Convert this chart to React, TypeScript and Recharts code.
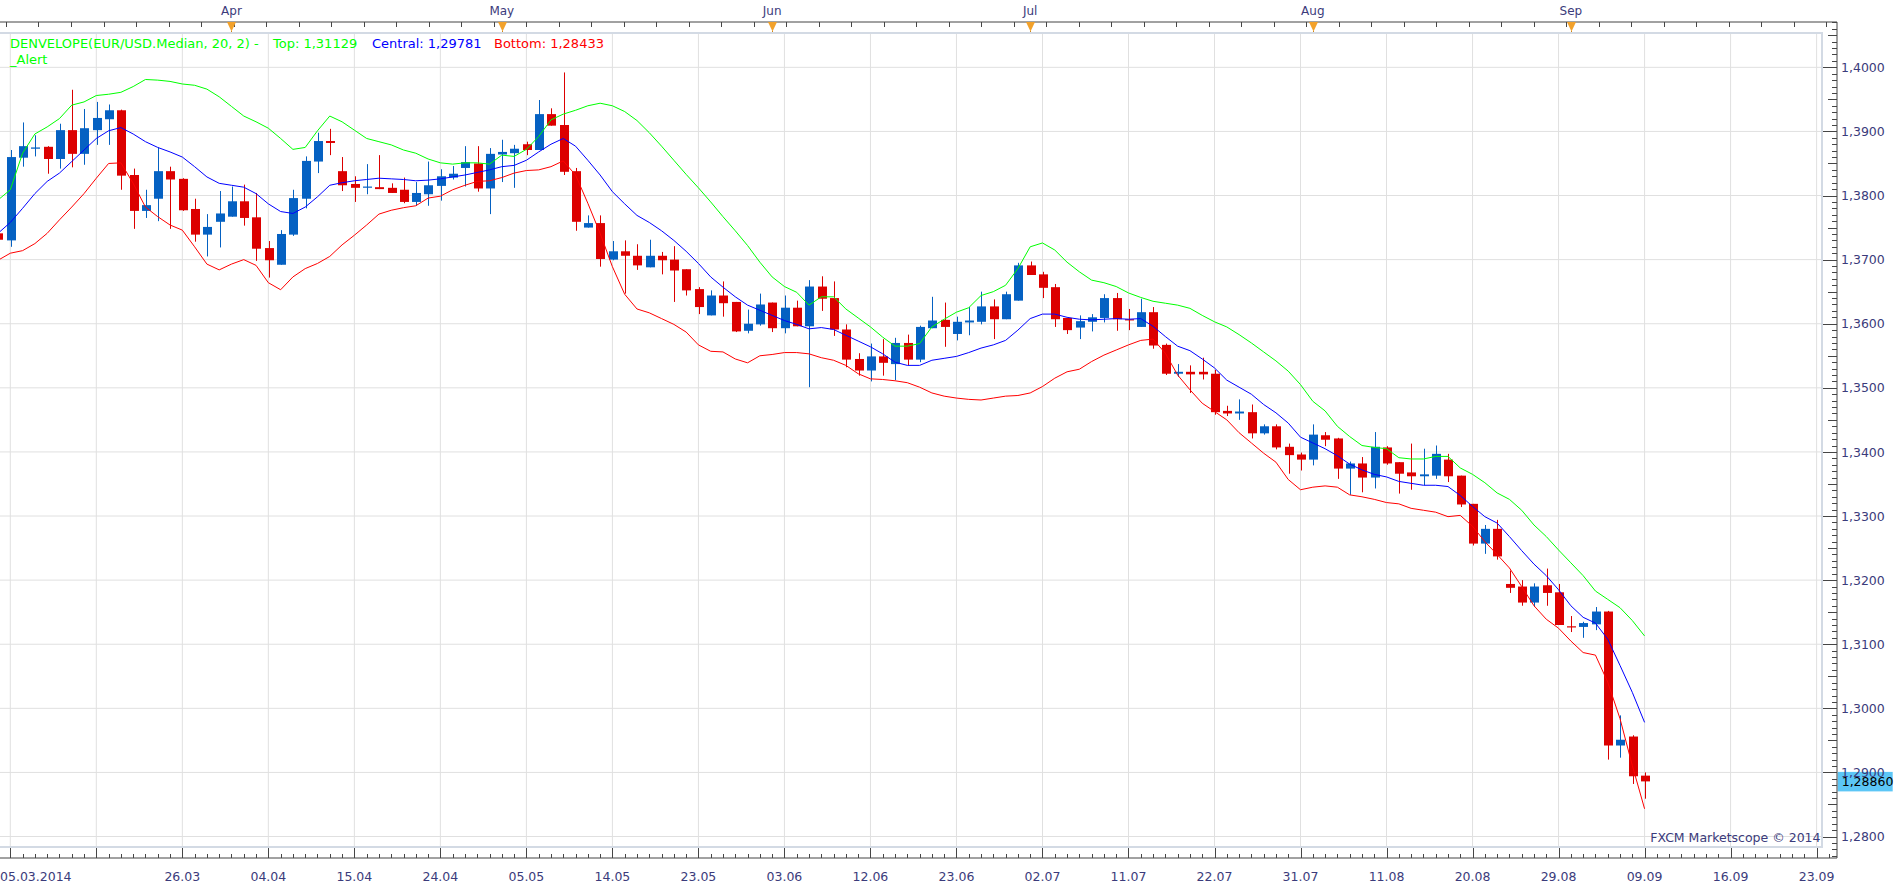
import React from 'react';
import { ComposedChart, Bar, Line, XAxis, YAxis, CartesianGrid, ReferenceLine } from 'recharts';

// ---------------- data ----------------
const FIRST_INDEX = -1; // first (partly hidden) candle sits one slot before 05.03.2014

const opens = [
  1.3741, 1.3730, 1.3859, 1.3873, 1.3876, 1.3857, 1.3902, 1.3865, 1.3902, 1.3919,
  1.3933, 1.3832, 1.3776, 1.3795, 1.3838, 1.3826, 1.3779, 1.3739, 1.3759, 1.3767,
  1.3791, 1.3766, 1.3718, 1.3692, 1.3739, 1.3795, 1.3853, 1.3885, 1.3838, 1.3818,
  1.3813, 1.3813, 1.3812, 1.3809, 1.3790, 1.3802, 1.3815, 1.3828, 1.3843, 1.3850,
  1.3811, 1.3864, 1.3866, 1.3880, 1.3871, 1.3927, 1.3910, 1.3838, 1.3750, 1.3757,
  1.3700, 1.3713, 1.3706, 1.3688, 1.3706, 1.3700, 1.3685, 1.3654, 1.3613, 1.3644,
  1.3634, 1.3589, 1.3599, 1.3633, 1.3593, 1.3625, 1.3596, 1.3658, 1.3640, 1.3591,
  1.3545, 1.3527, 1.3549, 1.3537, 1.3570, 1.3544, 1.3593, 1.3606, 1.3584, 1.3602,
  1.3603, 1.3627, 1.3607, 1.3636, 1.3691, 1.3677, 1.3657, 1.3609, 1.3594, 1.3603,
  1.3609, 1.3640, 1.3607, 1.3595, 1.3618, 1.3567, 1.3522, 1.3525, 1.3525, 1.3522,
  1.3464, 1.3460, 1.3462, 1.3429, 1.3440, 1.3408, 1.3396, 1.3388, 1.3426, 1.3421,
  1.3374, 1.3382, 1.3360, 1.3407, 1.3384, 1.3368, 1.3362, 1.3363, 1.3388, 1.3363,
  1.3319, 1.3257, 1.3280, 1.3194, 1.3190, 1.3165, 1.3192, 1.3181, 1.3128, 1.3127,
  1.3131, 1.3151, 1.2942, 1.2956, 1.2895,
];
const highs = [
  1.3746, 1.3871, 1.3914, 1.3894, 1.3877, 1.3912, 1.3965, 1.3935, 1.3946, 1.3942,
  1.3934, 1.3842, 1.3809, 1.3875, 1.3845, 1.3827, 1.3795, 1.3771, 1.3807, 1.3814,
  1.3817, 1.3804, 1.3729, 1.3746, 1.3809, 1.3861, 1.3898, 1.3904, 1.3860, 1.3830,
  1.3849, 1.3863, 1.3819, 1.3828, 1.3821, 1.3853, 1.3841, 1.3846, 1.3877, 1.3877,
  1.3874, 1.3887, 1.3879, 1.3884, 1.3949, 1.3936, 1.3992, 1.3843, 1.3769, 1.3769,
  1.3729, 1.3730, 1.3724, 1.3731, 1.3712, 1.3721, 1.3685, 1.3657, 1.3652, 1.3666,
  1.3634, 1.3622, 1.3647, 1.3633, 1.3644, 1.3636, 1.3668, 1.3674, 1.3666, 1.3599,
  1.3554, 1.3569, 1.3576, 1.3578, 1.3583, 1.3597, 1.3642, 1.3633, 1.3611, 1.3626,
  1.3650, 1.3638, 1.3650, 1.3695, 1.3697, 1.3681, 1.3662, 1.3609, 1.3613, 1.3615,
  1.3646, 1.3648, 1.3623, 1.3639, 1.3626, 1.3569, 1.3537, 1.3535, 1.3547, 1.3528,
  1.3472, 1.3482, 1.3474, 1.3443, 1.3443, 1.3413, 1.3399, 1.3443, 1.3431, 1.3422,
  1.3385, 1.3392, 1.3431, 1.3409, 1.3384, 1.3413, 1.3405, 1.3410, 1.3397, 1.3363,
  1.3319, 1.3286, 1.3294, 1.3215, 1.3200, 1.3195, 1.3218, 1.3194, 1.3144, 1.3135,
  1.3158, 1.3152, 1.2989, 1.2958, 1.2900,
];
const lows = [
  1.3726, 1.3720, 1.3845, 1.3861, 1.3834, 1.3842, 1.3844, 1.3848, 1.3879, 1.3879,
  1.3809, 1.3748, 1.3765, 1.3760, 1.3748, 1.3776, 1.3728, 1.3705, 1.3719, 1.3767,
  1.3753, 1.3698, 1.3672, 1.3692, 1.3737, 1.3780, 1.3835, 1.3863, 1.3807, 1.3790,
  1.3802, 1.3810, 1.3804, 1.3788, 1.3784, 1.3784, 1.3792, 1.3825, 1.3814, 1.3806,
  1.3771, 1.3821, 1.3812, 1.3863, 1.3871, 1.3909, 1.3832, 1.3745, 1.3750, 1.3689,
  1.3699, 1.3647, 1.3684, 1.3688, 1.3677, 1.3634, 1.3644, 1.3615, 1.3613, 1.3611,
  1.3587, 1.3585, 1.3597, 1.3587, 1.3585, 1.3596, 1.3501, 1.3620, 1.3581, 1.3532,
  1.3519, 1.3510, 1.3519, 1.3512, 1.3535, 1.3540, 1.3593, 1.3564, 1.3574, 1.3582,
  1.3599, 1.3576, 1.3607, 1.3636, 1.3676, 1.3640, 1.3595, 1.3584, 1.3576, 1.3588,
  1.3602, 1.3589, 1.3590, 1.3595, 1.3561, 1.3520, 1.3517, 1.3492, 1.3513, 1.3458,
  1.3456, 1.3450, 1.3421, 1.3427, 1.3404, 1.3366, 1.3371, 1.3379, 1.3409, 1.3358,
  1.3333, 1.3337, 1.3343, 1.3380, 1.3335, 1.3341, 1.3348, 1.3358, 1.3353, 1.3314,
  1.3254, 1.3241, 1.3232, 1.3180, 1.3160, 1.3158, 1.3160, 1.3130, 1.3119, 1.3110,
  1.3122, 1.2920, 1.2923, 1.2882, 1.2859,
];
const closes = [
  1.3731, 1.3860, 1.3877, 1.3875, 1.3857, 1.3902, 1.3865, 1.3905, 1.3921, 1.3933,
  1.3831, 1.3776, 1.3785, 1.3838, 1.3825, 1.3777, 1.3739, 1.3751, 1.3772, 1.3791,
  1.3765, 1.3717, 1.3699, 1.3740, 1.3796, 1.3854, 1.3885, 1.3882, 1.3816, 1.3812,
  1.3814, 1.3810, 1.3804, 1.3790, 1.3804, 1.3816, 1.3830, 1.3834, 1.3852, 1.3811,
  1.3865, 1.3868, 1.3873, 1.3871, 1.3927, 1.3909, 1.3837, 1.3759, 1.3757, 1.3701,
  1.3713, 1.3706, 1.3691, 1.3706, 1.3699, 1.3683, 1.3652, 1.3626, 1.3644, 1.3632,
  1.3588, 1.3600, 1.3630, 1.3593, 1.3625, 1.3596, 1.3658, 1.3639, 1.3591, 1.3544,
  1.3527, 1.3549, 1.3539, 1.3570, 1.3544, 1.3595, 1.3605, 1.3595, 1.3603, 1.3605,
  1.3627, 1.3607, 1.3646, 1.3691, 1.3676, 1.3656, 1.3607, 1.3590, 1.3604, 1.3610,
  1.3640, 1.3607, 1.3606, 1.3618, 1.3566, 1.3522, 1.3525, 1.3521, 1.3521, 1.3462,
  1.3460, 1.3463, 1.3429, 1.3440, 1.3407, 1.3395, 1.3388, 1.3427, 1.3419, 1.3374,
  1.3382, 1.3360, 1.3408, 1.3382, 1.3366, 1.3362, 1.3365, 1.3397, 1.3362, 1.3318,
  1.3257, 1.3280, 1.3237, 1.3188, 1.3165, 1.3190, 1.3180, 1.3130, 1.3127, 1.3133,
  1.3151, 1.2942, 1.2951, 1.2894, 1.2886,
];
const topEnvelope = [
  1.3793, 1.3809, 1.3866, 1.3896, 1.3907, 1.3920, 1.3941, 1.3946, 1.3956, 1.3958,
  1.3961, 1.3970, 1.3981, 1.3980, 1.3978, 1.3974, 1.3972, 1.3966, 1.3954, 1.3939,
  1.3924, 1.3915, 1.3905, 1.3889, 1.3872, 1.3875, 1.3901, 1.3924, 1.3915, 1.3902,
  1.3889, 1.3884, 1.3879, 1.3871, 1.3866, 1.3857, 1.3851, 1.3849, 1.3851, 1.3851,
  1.3849, 1.3863, 1.3861, 1.3872, 1.3892, 1.3918, 1.3927, 1.3933, 1.3940, 1.3944,
  1.3940, 1.3931, 1.3917, 1.3898, 1.3877, 1.3855, 1.3833, 1.3812, 1.3790, 1.3767,
  1.3745, 1.3722, 1.3696, 1.3673, 1.3658, 1.3649, 1.3629, 1.3642, 1.3642, 1.3623,
  1.3609, 1.3595, 1.3579, 1.3565, 1.3565, 1.3569, 1.3595, 1.3607, 1.3618, 1.3625,
  1.3644, 1.3650, 1.3660, 1.3686, 1.3720, 1.3726, 1.3715, 1.3696, 1.3681, 1.3668,
  1.3664, 1.3658, 1.3648, 1.3641, 1.3635, 1.3632, 1.3629, 1.3624, 1.3613, 1.3603,
  1.3595, 1.3583, 1.3570, 1.3556, 1.3542, 1.3526, 1.3505, 1.3479, 1.3464, 1.3440,
  1.3424, 1.3410, 1.3407, 1.3405, 1.3391, 1.3389, 1.3389, 1.3393, 1.3393, 1.3375,
  1.3365, 1.3352, 1.3336, 1.3326, 1.3309, 1.3286, 1.3268, 1.3247, 1.3227, 1.3207,
  1.3183, 1.3170, 1.3157, 1.3137, 1.31129,
];
const centralEnvelope = [
  1.3741, 1.3758, 1.3780, 1.3803, 1.3822, 1.3835, 1.3853, 1.3871, 1.3889, 1.3901,
  1.3906, 1.3896, 1.3884, 1.3875, 1.3868, 1.3860, 1.3845, 1.3829, 1.3819, 1.3816,
  1.3813, 1.3803, 1.3787, 1.3775, 1.3772, 1.3782, 1.3798, 1.3816, 1.3820, 1.3823,
  1.3825, 1.3827, 1.3826, 1.3825, 1.3823, 1.3824, 1.3826, 1.3829, 1.3832, 1.3836,
  1.3840, 1.3845, 1.3847, 1.3855, 1.3868, 1.3880, 1.3889, 1.3877, 1.3855, 1.3832,
  1.3806, 1.3787, 1.3769, 1.3758, 1.3745, 1.3730, 1.3713, 1.3694, 1.3673, 1.3657,
  1.3642, 1.3629, 1.3621, 1.3613, 1.3605, 1.3599, 1.3592, 1.3594, 1.3591, 1.3582,
  1.3573, 1.3564, 1.3553, 1.3540, 1.3535, 1.3535, 1.3543, 1.3546, 1.3549, 1.3555,
  1.3562, 1.3567, 1.3574, 1.3590, 1.3608, 1.3615, 1.3615, 1.3610, 1.3607, 1.3606,
  1.3607, 1.3608, 1.3607, 1.3608, 1.3596, 1.3580, 1.3565, 1.3558, 1.3545, 1.3531,
  1.3512, 1.3501, 1.3490, 1.3474, 1.3461, 1.3445, 1.3423, 1.3414, 1.3405, 1.3394,
  1.3381, 1.3372, 1.3365, 1.3361, 1.3354, 1.3351, 1.3348, 1.3348, 1.3346, 1.3332,
  1.3315, 1.3299, 1.3289, 1.3268, 1.3246, 1.3225, 1.3207, 1.3185, 1.3160, 1.3142,
  1.3133, 1.3108, 1.3067, 1.3025, 1.29781,
];
const bottomEnvelope = [
  1.3699, 1.3710, 1.3714, 1.3725, 1.3741, 1.3762, 1.3782, 1.3803, 1.3827, 1.3850,
  1.3851, 1.3819, 1.3782, 1.3767, 1.3754, 1.3746, 1.3720, 1.3693, 1.3684, 1.3693,
  1.3700, 1.3691, 1.3664, 1.3653, 1.3673, 1.3686, 1.3694, 1.3705, 1.3723, 1.3738,
  1.3754, 1.3771, 1.3777, 1.3781, 1.3784, 1.3796, 1.3799, 1.3809, 1.3816, 1.3822,
  1.3823, 1.3828, 1.3835, 1.3839, 1.3840, 1.3845, 1.3854, 1.3832, 1.3788, 1.3741,
  1.3689, 1.3646, 1.3623, 1.3617, 1.3608, 1.3599, 1.3587, 1.3567, 1.3557, 1.3556,
  1.3545, 1.3539, 1.3550, 1.3552, 1.3555, 1.3555, 1.3553, 1.3547, 1.3543, 1.3535,
  1.3522, 1.3514, 1.3513, 1.3511, 1.3508, 1.3501, 1.3492, 1.3487, 1.3484, 1.3482,
  1.3481, 1.3484, 1.3487, 1.3488, 1.3492, 1.3502, 1.3515, 1.3525, 1.3529, 1.3541,
  1.3551, 1.3559, 1.3567, 1.3574, 1.3576, 1.3554, 1.3520, 1.3497, 1.3476, 1.3463,
  1.3450, 1.3430, 1.3414, 1.3398, 1.3384, 1.3357, 1.3341, 1.3345, 1.3347, 1.3345,
  1.3333, 1.3330, 1.3326, 1.3321, 1.3319, 1.3312, 1.3309, 1.3306, 1.3299, 1.3301,
  1.3284, 1.3260, 1.3240, 1.3219, 1.3190, 1.3160, 1.3139, 1.3125, 1.3105, 1.3087,
  1.3083, 1.3041, 1.2984, 1.2911, 1.28433,
];

const dateTickIndex = [0, 7, 14, 21, 28, 35, 42, 49, 56, 63, 70, 77, 84, 91, 98, 105, 112, 119, 126, 133, 140, 147];
const dateTickLabels = [
  '05.03.2014', '', '26.03', '04.04', '15.04', '24.04', '05.05', '14.05', '23.05', '03.06', '12.06',
  '23.06', '02.07', '11.07', '22.07', '31.07', '11.08', '20.08', '29.08', '09.09', '16.09', '23.09',
];
const monthTickIndex = [18, 40, 62, 83, 106, 127];
const monthTickLabels = ['Apr', 'May', 'Jun', 'Jul', 'Aug', 'Sep'];
const priceGridValues = [1.28, 1.29, 1.30, 1.31, 1.32, 1.33, 1.34, 1.35, 1.36, 1.37, 1.38, 1.39, 1.40];

// ---------------- layout / style ----------------
const X_MIN = -0.838;
const X_MAX = 148.66;
const Y_MIN = 1.27665;
const Y_MAX = 1.40707;

const BLUE = '#0561c2';
const RED = '#dc0000';
const ENV_GREEN = '#00ff00';
const ENV_BLUE = '#0000ff';
const ENV_RED = '#ff0000';
const AXIS_DARK = '#454545';
const LABEL = '#3b3b7b';
const GRID = '#e0e0e0';
const FONT = '"DejaVu Sans", Verdana, sans-serif';

const data = opens.map((o, k) => ({
  idx: FIRST_INDEX + k,
  open: o,
  high: highs[k],
  low: lows[k],
  close: closes[k],
  range: [lows[k], highs[k]],
  top: topEnvelope[k],
  central: centralEnvelope[k],
  bottom: bottomEnvelope[k],
}));

const candleTicks = Array.from({ length: 149 }, (_, k) => k);
const topMinorTicks = Array.from({ length: 57 }, (_, k) => +(-0.35 + k * 2.645).toFixed(3));
const topTicks = [...topMinorTicks, ...monthTickIndex];
const priceTicks = Array.from({ length: 131 }, (_, k) => +(1.277 + k * 0.001).toFixed(3));

const fmt = (v: number, d: number) => v.toFixed(d).replace('.', ',');

const Candle = (props: any) => {
  const { x, y, width, height, payload } = props;
  if (x == null || y == null || !payload) return null;
  const cx = Math.round(x + width / 2) + 0.5;
  const { open, close, high, low } = payload;
  const span = high - low;
  const toY = (v: number) => (span > 0 ? y + ((high - v) / span) * height : y);
  const up = close >= open;
  const color = up ? BLUE : RED;
  const bt = toY(Math.max(open, close));
  const bb = toY(Math.min(open, close));
  return (
    <g>
      <line x1={cx} x2={cx} y1={y} y2={y + Math.max(height, 1)} stroke={color} strokeWidth={1} />
      <rect x={cx - 4.5} y={bt} width={9} height={Math.max(bb - bt, 1.2)} fill={color} />
    </g>
  );
};

const PriceTick = (props: any) => {
  const { x, y, payload } = props;
  const v = payload.value as number;
  const m = Math.round(v * 1000);
  const major = m % 10 === 0;
  const half = m % 5 === 0;
  const len = major ? 15 : half ? 9 : 5;
  const yy = Math.round(y) + 0.5;
  return (
    <g>
      <line x1={x - len} x2={x} y1={yy} y2={yy} stroke={AXIS_DARK} strokeWidth={1} />
      {major && (
        <text x={x + 4} y={y + 4.6} fill={LABEL} fontSize={12.5} fontFamily={FONT} textAnchor="start">
          {fmt(v, 4)}
        </text>
      )}
    </g>
  );
};

const BottomTick = (props: any) => {
  const { x, y, payload } = props;
  const i = payload.value as number;
  const k = dateTickIndex.indexOf(i);
  const major = k >= 0;
  const xx = Math.round(x) + 0.5;
  return (
    <g>
      <line x1={xx} x2={xx} y1={y} y2={y - (major ? 10 : 4)} stroke={AXIS_DARK} strokeWidth={1} />
      {major && dateTickLabels[k] !== '' && (
        <text
          x={k === 0 ? 0 : x}
          y={y + 23}
          fill={LABEL}
          fontSize={12.5}
          fontFamily={FONT}
          textAnchor={k === 0 ? 'start' : 'middle'}
        >
          {dateTickLabels[k]}
        </text>
      )}
    </g>
  );
};

const TopTick = (props: any) => {
  const { x, y, payload } = props;
  const k = monthTickIndex.indexOf(payload.value);
  const xx = Math.round(x) + 0.5;
  if (k >= 0) {
    return (
      <g>
        <text x={x} y={y - 7} fill={LABEL} fontSize={12} fontFamily={FONT} textAnchor="middle">
          {monthTickLabels[k]}
        </text>
        <polygon points={`${xx - 4.5},${y} ${xx + 4.5},${y} ${xx},${y + 9.5}`} fill="#f2a12a" />
        <line x1={xx} x2={xx} y1={y + 9} y2={y + 11} stroke="#c98520" strokeWidth={1} />
      </g>
    );
  }
  return <line x1={xx} x2={xx} y1={y} y2={y + 5} stroke={AXIS_DARK} strokeWidth={1} />;
};

const LastPriceLabel = (props: any) => {
  const vb = props.viewBox || {};
  const bx = (vb.x || 0) + (vb.width || 0) + 0.7;
  const by = (vb.y || 0) - 9.5;
  return (
    <g>
      <rect x={bx} y={by} width={55} height={19.5} fill="#5cc6f6" />
      <text x={bx + 4} y={by + 14.2} fill="#000" fontSize={12.5} fontFamily={FONT}>
        {fmt(closes[closes.length - 1], 5)}
      </text>
    </g>
  );
};

export default function App() {
  const last = topEnvelope.length - 1;
  return (
    <div style={{ position: 'absolute', left: 0, top: 0, width: 1903, height: 889, background: '#fff', overflow: 'hidden' }}>
      <ComposedChart width={1903} height={889} data={data} margin={{ top: 0, right: 0, bottom: 0, left: 0 }}>
        <XAxis
          xAxisId="t"
          orientation="top"
          dataKey="idx"
          type="number"
          domain={[X_MIN, X_MAX]}
          allowDataOverflow
          ticks={topTicks}
          interval={0}
          tick={<TopTick />}
          tickLine={false}
          tickSize={0}
          tickMargin={0}
          axisLine={{ stroke: AXIS_DARK }}
          height={22}
        />
        <XAxis
          xAxisId="b"
          dataKey="idx"
          type="number"
          domain={[X_MIN, X_MAX]}
          allowDataOverflow
          ticks={candleTicks}
          interval={0}
          tick={<BottomTick />}
          tickLine={false}
          tickSize={0}
          tickMargin={0}
          axisLine={{ stroke: AXIS_DARK }}
          height={31}
        />
        <YAxis
          yAxisId="p"
          orientation="right"
          type="number"
          domain={[Y_MIN, Y_MAX]}
          allowDataOverflow
          ticks={priceTicks}
          interval={0}
          tick={<PriceTick />}
          tickLine={false}
          tickSize={0}
          tickMargin={0}
          axisLine={{ stroke: AXIS_DARK }}
          width={66}
        />
        <CartesianGrid
          xAxisId="b"
          yAxisId="p"
          horizontalValues={priceGridValues}
          verticalValues={dateTickIndex}
          horizontal={(p: any) => (
            <line key={`h-${p.index}-${p.y1}`} x1={p.x1} x2={p.x2 - 15} y1={p.y1} y2={p.y2} stroke={GRID} strokeWidth={1} />
          )}
          vertical={(p: any) => (
            <line key={`v-${p.index}-${p.x1}`} x1={p.x1} x2={p.x2} y1={p.y1 + 11.3} y2={p.y2 - 11.3} stroke={GRID} strokeWidth={1} />
          )}
        />
        <Bar
          xAxisId="b"
          yAxisId="p"
          dataKey="range"
          barSize={9}
          shape={<Candle />}
          isAnimationActive={false}
        />
        <Line xAxisId="b" yAxisId="p" type="linear" dataKey="bottom" stroke={ENV_RED} strokeWidth={1} dot={false} activeDot={false} isAnimationActive={false} />
        <Line xAxisId="b" yAxisId="p" type="linear" dataKey="central" stroke={ENV_BLUE} strokeWidth={1} dot={false} activeDot={false} isAnimationActive={false} />
        <Line xAxisId="b" yAxisId="p" type="linear" dataKey="top" stroke={ENV_GREEN} strokeWidth={1} dot={false} activeDot={false} isAnimationActive={false} />
        <ReferenceLine
          xAxisId="b"
          yAxisId="p"
          y={closes[closes.length - 1]}
          stroke="none"
          ifOverflow="visible"
          label={(p: any) => <LastPriceLabel {...p} />}
        />
      </ComposedChart>

      {/* inner plot frame */}
      <div
        style={{
          position: 'absolute',
          left: -4,
          top: 32,
          width: 1827,
          height: 816,
          boxSizing: 'border-box',
          border: '2px solid #d3dae4',
          pointerEvents: 'none',
        }}
      />

      {/* indicator legend */}
      <div style={{ position: 'absolute', left: 0, top: 36, width: 900, height: 34, fontFamily: FONT, fontSize: 13, lineHeight: '16px', whiteSpace: 'pre' }}>
        <span style={{ position: 'absolute', left: 10, top: 0, color: ENV_GREEN }}>DENVELOPE(EUR/USD.Median, 20, 2) -</span>
        <span style={{ position: 'absolute', left: 273, top: 0, color: ENV_GREEN }}>{`Top: ${fmt(topEnvelope[last], 5)}`}</span>
        <span style={{ position: 'absolute', left: 372, top: 0, color: ENV_BLUE }}>{`Central: ${fmt(centralEnvelope[last], 5)}`}</span>
        <span style={{ position: 'absolute', left: 494, top: 0, color: ENV_RED }}>{`Bottom: ${fmt(bottomEnvelope[last], 5)}`}</span>
        <span style={{ position: 'absolute', left: 10, top: 16, color: ENV_GREEN }}>_Alert</span>
      </div>

      {/* watermark */}
      <div
        style={{
          position: 'absolute',
          left: 0,
          top: 830,
          width: 1820.5,
          textAlign: 'right',
          fontFamily: FONT,
          fontSize: 12.5,
          lineHeight: '16px',
          color: LABEL,
          whiteSpace: 'pre',
        }}
      >
        FXCM Marketscope © 2014
      </div>
    </div>
  );
}
